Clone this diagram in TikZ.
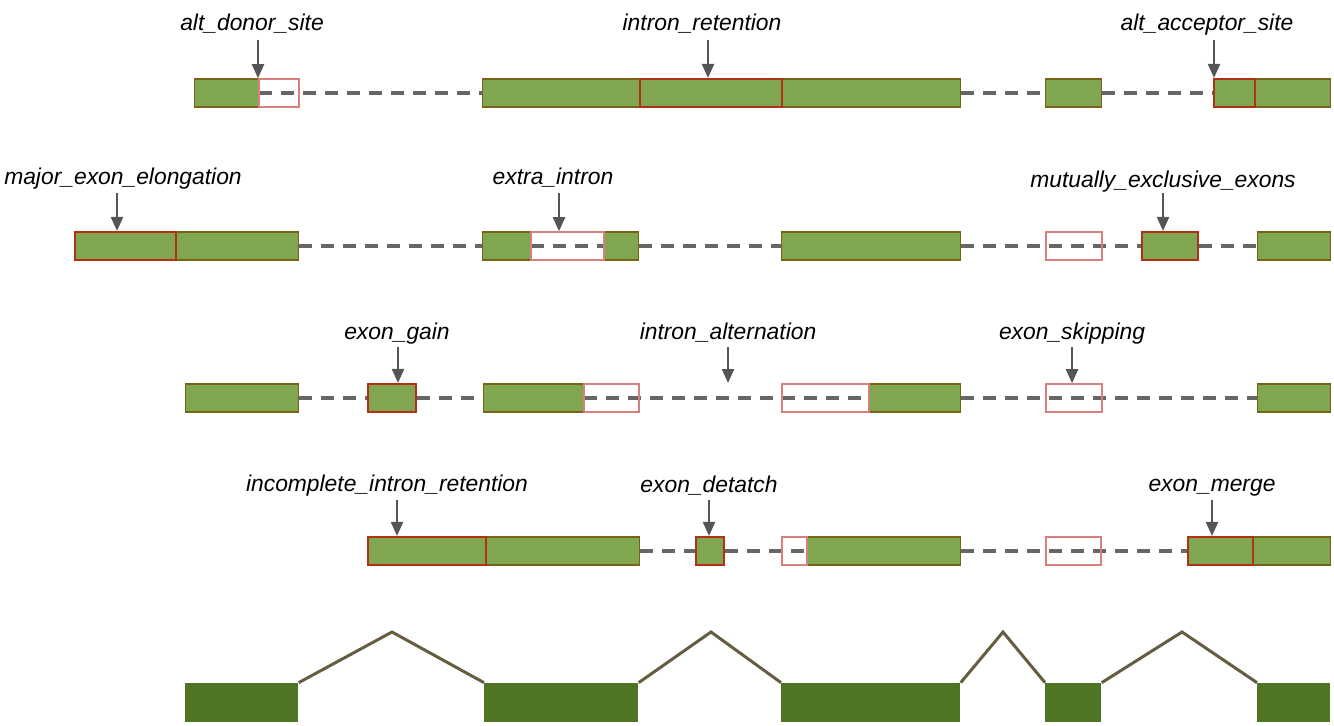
\documentclass[tikz,border=0pt]{standalone}
\usepackage{fontspec}
\setmainfont{Liberation Sans}
\usepackage{tikz}
\usetikzlibrary{arrows.meta,
                    positioning}

\definecolor{exongreen}{HTML}{80A650}
\definecolor{exonedge}{HTML}{786414}
\definecolor{altred}{HTML}{B03018}
\definecolor{gapred}{HTML}{D88080}
\definecolor{introngray}{HTML}{666666}
\definecolor{pointergray}{HTML}{555555}
\definecolor{refgreen}{HTML}{4F7524}
\definecolor{junction}{HTML}{665C40}

\begin{document}
\begin{tikzpicture}[
            x=0.02cm,y=-0.02cm,
            exon/.style={
              draw=exonedge,
              fill=exongreen,
              line width=0.8pt,
              inner sep=0pt,
              minimum height=0.56cm,
              anchor=west
            },
            altbox/.style={
              draw=altred,
              line width=1.2pt,
              inner sep=0pt,
              minimum height=0.56cm,
              anchor=west
            },
            altexon/.style={
              altbox,
              fill=exongreen
            },
            gapbox/.style={
              draw=gapred,
              line width=0.9pt,
              inner sep=0pt,
              minimum height=0.56cm,
              anchor=west
            },
            refexon/.style={
              fill=refgreen,
              inner sep=0pt,
              minimum height=0.78cm,
              anchor=west
            },
            intron/.style={
              draw=introngray,
              line width=2.4pt,
              dash pattern=on 0.25cm off 0.19cm
            },
            junc/.style={
              draw=junction,
              line width=1.7pt
            },
            pointer/.style={
              draw=pointergray,
              line width=1.3pt,
              -{Triangle[width=0.24cm,length=0.28cm]}
            },
            event/.style={
              font=\fontsize{13}{15}\selectfont\itshape,
              anchor=base,
              inner sep=0pt
            }
            ]
            \useasboundingbox (0,0) rectangle (1334,726);

            % row 1
            \node[exon,minimum width=1.28cm] (r1a) at (194,93) {};
            \node[exon,minimum width=9.56cm] (r1b) at (482,93) {};
            \node[exon,minimum width=1.12cm] (r1c) at (1045,93) {};
            \node[exon,minimum width=2.34cm] (r1d) at (1213,93) {};
            \draw[intron] (r1a.east) -- (r1b.west);
            \draw[intron] (r1b.east) -- (r1c.west);
            \draw[intron] (r1c.east) -- (r1d.west);
            \node[gapbox,minimum width=0.8cm] (r1ag) at (258,93) {};
            \node[altbox,minimum width=2.84cm] (r1bx) at (639,93) {};
            \node[altbox,minimum width=0.82cm] (r1dx) at (1213,93) {};

            \node[event] (donor) at (252,31) {alt\_donor\_site};
            \node[event] (retention) at (702,31) {intron\_retention};
            \node[event] (acceptor) at (1207,31) {alt\_acceptor\_site};
            \coordinate (p11) at (258,40);
            \coordinate (p12) at (708,40);
            \coordinate (p13) at (1214,40);
            \draw[pointer] (p11) -- (p11 |- r1ag.north);
            \draw[pointer] (p12) -- (p12 |- r1bx.north);
            \draw[pointer] (p13) -- (p13 |- r1dx.north);

            % row 2
            \node[exon,minimum width=4.48cm] (r2a) at (74,246) {};
            \node[exon,minimum width=0.96cm] (r2b) at (482,246) {};
            \node[exon,minimum width=0.70cm] (r2c) at (603,246) {};
            \node[exon,minimum width=3.58cm] (r2d) at (781,246) {};
            \node[altexon,minimum width=1.12cm] (r2f) at (1141,246) {};
            \node[exon,minimum width=1.46cm] (r2g) at (1257,246) {};
            \draw[intron] (r2a.east) -- (r2b.west);
            \draw[intron] (r2b.east) -- (r2c.west);
            \draw[intron] (r2c.east) -- (r2d.west);
            \draw[intron] (r2d.east) -- (r2f.west);
            \draw[intron] (r2f.east) -- (r2g.west);
            \node[altbox,minimum width=2.02cm] (r2ax) at (74,246) {};
            \node[gapbox,minimum width=1.46cm] (r2bg) at (530,246) {};
            \node[gapbox,minimum width=1.12cm] (r2eg) at (1045,246) {};

            \node[event] (elong) at (123,185) {major\_exon\_elongation};
            \node[event] (extra) at (553,185) {extra\_intron};
            \node[event] (mutual) at (1163,188) {mutually\_exclusive\_exons};
            \coordinate (p21) at (117,193);
            \coordinate (p22) at (559,193);
            \coordinate (p23) at (1163,193);
            \draw[pointer] (p21) -- (p21 |- r2ax.north);
            \draw[pointer] (p22) -- (p22 |- r2bg.north);
            \draw[pointer] (p23) -- (p23 |- r2f.north);

            % row 3
            \node[exon,minimum width=2.26cm] (r3a) at (185,398) {};
            \node[altexon,minimum width=0.96cm] (r3b) at (367,398) {};
            \node[exon,minimum width=2.00cm] (r3c) at (483,398) {};
            \node[exon,minimum width=1.84cm] (r3d) at (868,398) {};
            \node[exon,minimum width=1.46cm] (r3f) at (1257,398) {};
            \draw[intron] (r3a.east) -- (r3b.west);
            \draw[intron] (r3b.east) -- (r3c.west);
            \draw[intron] (r3c.east) -- (r3d.west);
            \draw[intron] (r3d.east) -- (r3f.west);
            \node[gapbox,minimum width=1.10cm] (r3cg) at (583,398) {};
            \node[gapbox,minimum width=1.74cm] (r3dg) at (781,398) {};
            \node[gapbox,minimum width=1.12cm] (r3eg) at (1045,398) {};

            \node[event] (gain) at (397,339) {exon\_gain};
            \node[event] (altern) at (728,339) {intron\_alternation};
            \node[event] (skip) at (1072,339) {exon\_skipping};
            \coordinate (p31) at (398,347);
            \coordinate (p32) at (728,347);
            \coordinate (p33) at (1072,347);
            \coordinate (e32) at (728,383);
            \draw[pointer] (p31) -- (p31 |- r3b.north);
            \draw[pointer] (p32) -- (e32);
            \draw[pointer] (p33) -- (p33 |- r3eg.north);

            % row 4
            \node[exon,minimum width=5.44cm] (r4a) at (367,551) {};
            \node[altexon,minimum width=0.56cm] (r4b) at (695,551) {};
            \node[exon,minimum width=3.08cm] (r4c) at (806,551) {};
            \node[exon,minimum width=2.86cm] (r4e) at (1187,551) {};
            \draw[intron] (r4a.east) -- (r4b.west);
            \draw[intron] (r4b.east) -- (r4c.west);
            \draw[intron] (r4c.east) -- (r4e.west);
            \node[altbox,minimum width=2.36cm] (r4ax) at (367,551) {};
            \node[gapbox,minimum width=0.5cm] (r4cg) at (781,551) {};
            \node[gapbox,minimum width=1.10cm] (r4dg) at (1045,551) {};
            \node[altbox,minimum width=1.30cm] (r4ex) at (1187,551) {};

            \node[event] (incomplete) at (387,491) {incomplete\_intron\_retention};
            \node[event] (detach) at (709,492) {exon\_detatch};
            \node[event] (merge) at (1212,491) {exon\_merge};
            \coordinate (p41) at (397,500);
            \coordinate (p42) at (709,500);
            \coordinate (p43) at (1212,500);
            \draw[pointer] (p41) -- (p41 |- r4ax.north);
            \draw[pointer] (p42) -- (p42 |- r4b.north);
            \draw[pointer] (p43) -- (p43 |- r4ex.north);

            % reference gene model
            \node[refexon,minimum width=2.26cm] (g1) at (185,702.5) {};
            \node[refexon,minimum width=3.08cm] (g2) at (484,702.5) {};
            \node[refexon,minimum width=3.58cm] (g3) at (781,702.5) {};
            \node[refexon,minimum width=1.12cm] (g4) at (1045,702.5) {};
            \node[refexon,minimum width=1.46cm] (g5) at (1257,702.5) {};
            \draw[junc] (g1.north east) -- (392,632) -- (g2.north west);
            \draw[junc] (g2.north east) -- (711,632) -- (g3.north west);
            \draw[junc] (g3.north east) -- (1003,632) -- (g4.north west);
            \draw[junc] (g4.north east) -- (1182,632) -- (g5.north west);
        \end{tikzpicture}
\end{document}
